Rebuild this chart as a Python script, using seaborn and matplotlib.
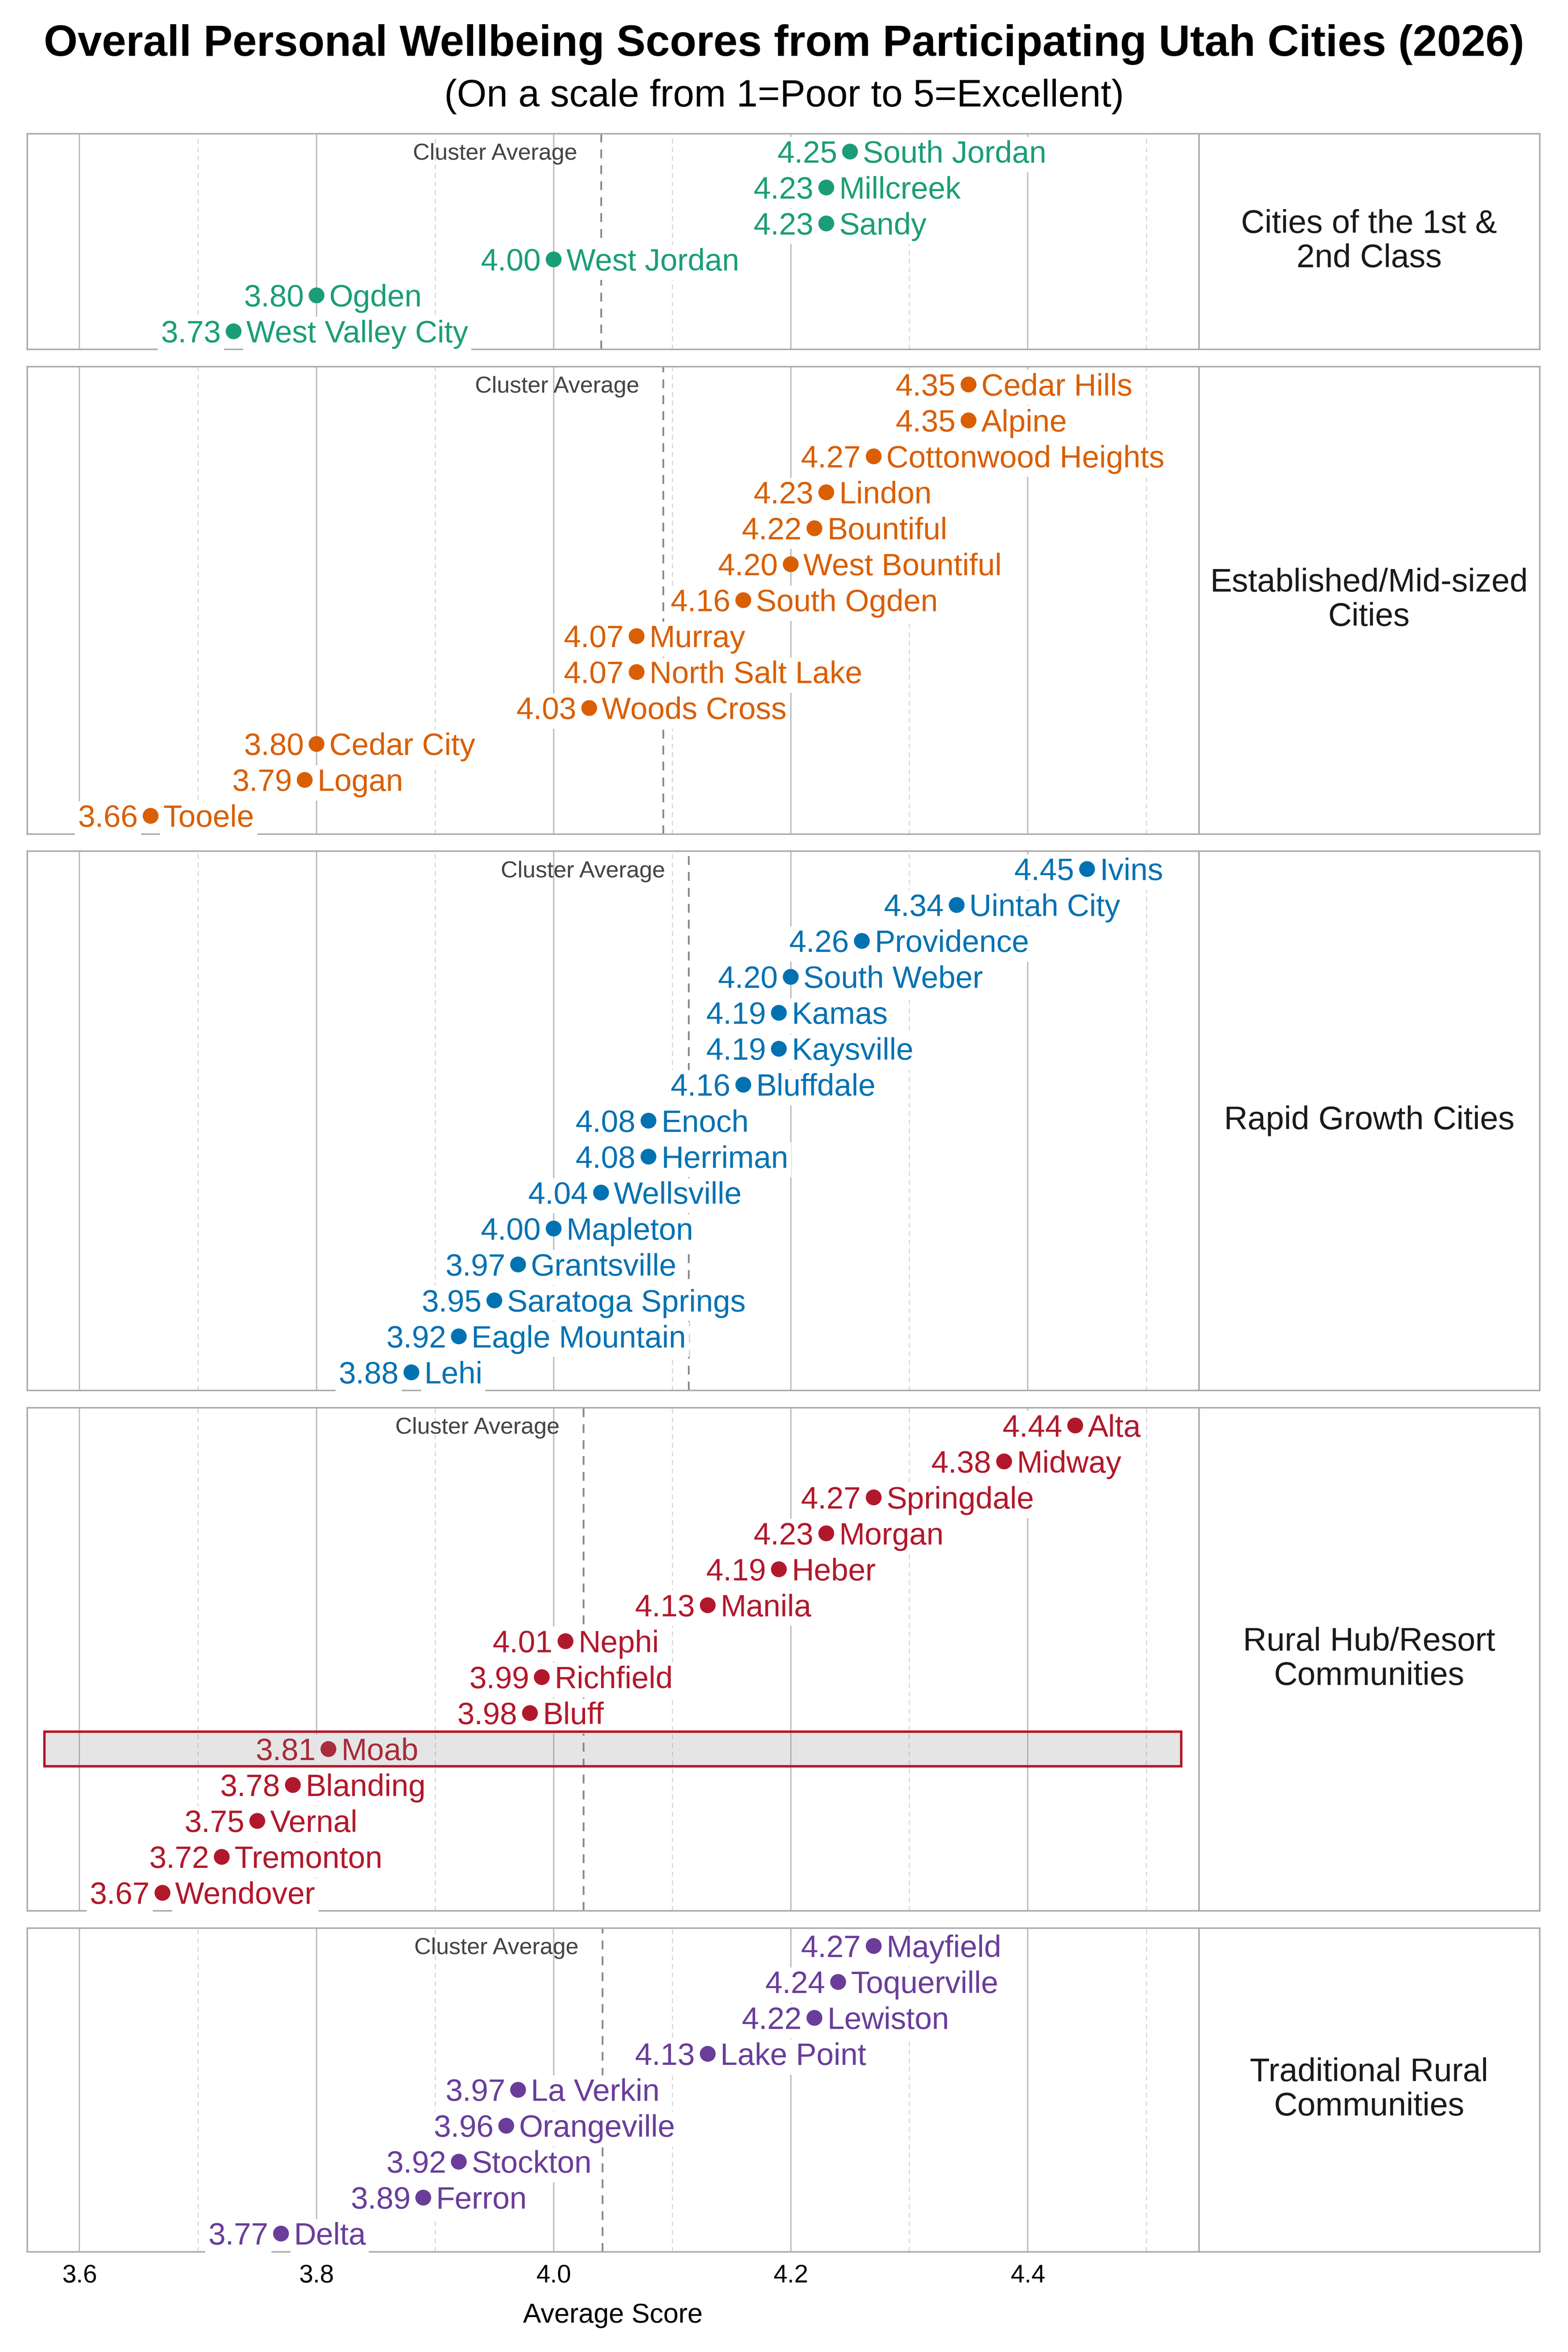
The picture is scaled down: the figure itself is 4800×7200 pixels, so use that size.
import matplotlib
matplotlib.use("Agg")
import matplotlib.pyplot as plt
import matplotlib.patches as mpatches
import matplotlib.transforms as mtransforms
import pandas as pd
import seaborn as sns

# cluster names (as shown in the right-hand strips)
cluster_labels = [
    "Cities of the 1st &\n2nd Class",
    "Established/Mid-sized\nCities",
    "Rapid Growth Cities",
    "Rural Hub/Resort\nCommunities",
    "Traditional Rural\nCommunities",
]
cluster_colors = ["#1b9e77", "#d95f02", "#0072b2", "#b2182b", "#6a3d9a"]

cities_1 = ["South Jordan", "Millcreek", "Sandy", "West Jordan", "Ogden", "West Valley City"]
scores_1 = [4.25, 4.23, 4.23, 4.00, 3.80, 3.73]

cities_2 = ["Cedar Hills", "Alpine", "Cottonwood Heights", "Lindon", "Bountiful", "West Bountiful",
            "South Ogden", "Murray", "North Salt Lake", "Woods Cross", "Cedar City", "Logan", "Tooele"]
scores_2 = [4.35, 4.35, 4.27, 4.23, 4.22, 4.20, 4.16, 4.07, 4.07, 4.03, 3.80, 3.79, 3.66]

cities_3 = ["Ivins", "Uintah City", "Providence", "South Weber", "Kamas", "Kaysville", "Bluffdale",
            "Enoch", "Herriman", "Wellsville", "Mapleton", "Grantsville", "Saratoga Springs",
            "Eagle Mountain", "Lehi"]
scores_3 = [4.45, 4.34, 4.26, 4.20, 4.19, 4.19, 4.16, 4.08, 4.08, 4.04, 4.00, 3.97, 3.95, 3.92, 3.88]

cities_4 = ["Alta", "Midway", "Springdale", "Morgan", "Heber", "Manila", "Nephi", "Richfield", "Bluff",
            "Moab", "Blanding", "Vernal", "Tremonton", "Wendover"]
scores_4 = [4.44, 4.38, 4.27, 4.23, 4.19, 4.13, 4.01, 3.99, 3.98, 3.81, 3.78, 3.75, 3.72, 3.67]

cities_5 = ["Mayfield", "Toquerville", "Lewiston", "Lake Point", "La Verkin", "Orangeville",
            "Stockton", "Ferron", "Delta"]
scores_5 = [4.27, 4.24, 4.22, 4.13, 3.97, 3.96, 3.92, 3.89, 3.77]

highlight_city = "Moab"

x_ticks = [3.6, 3.8, 4.0, 4.2, 4.4]
x_minor = [3.7, 3.9, 4.1, 4.3, 4.5]

all_cities = [cities_1, cities_2, cities_3, cities_4, cities_5]
all_scores = [scores_1, scores_2, scores_3, scores_4, scores_5]

sns.set_theme(style="white")
plt.rcParams["font.family"] = ["Liberation Sans", "DejaVu Sans"]

LABEL_FS = 22.7
AVG_FS = 17
GRID_GREY = "#aaaaaa"

fig = plt.figure(figsize=(16, 24), dpi=300)
gs = fig.add_gridspec(5, 2, height_ratios=[len(c) for c in all_cities], width_ratios=[781, 227],
                      left=0.0172, right=0.9818, top=0.9432, bottom=0.0427, hspace=0.042, wspace=0)

for i, (cities, scores) in enumerate(zip(all_cities, all_scores)):
    ax = fig.add_subplot(gs[i, 0])
    sax = fig.add_subplot(gs[i, 1])
    col = cluster_colors[i]
    n = len(cities)
    df = pd.DataFrame({"city": cities, "score": scores, "pos": range(n)})

    # gridlines
    ax.set_xticks(x_ticks)
    ax.set_xticks(x_minor, minor=True)
    ax.grid(which="major", axis="x", color="#b8b8b8", lw=0.9, zorder=0)
    ax.grid(which="minor", axis="x", color="#d2d2d2", lw=0.7, ls=(0, (5, 4)), zorder=0)
    ax.set_axisbelow(True)

    # cluster average line
    avg = df["score"].mean()
    ax.axvline(avg, color="#888888", lw=1.3, ls=(0, (5, 4)), zorder=1)
    ax.annotate("Cluster Average", xy=(avg - 0.02, 0), xytext=(0, -0.358 * AVG_FS),
                textcoords="offset points", ha="right", va="baseline",
                fontsize=AVG_FS, color="#444444", zorder=2)

    sns.scatterplot(data=df, x="score", y="pos", color=col, s=135, edgecolor="none",
                    ax=ax, zorder=4, legend=False)

    for _, r in df.iterrows():
        box = dict(boxstyle="square,pad=0.1", fc="white", ec="none")
        ax.annotate(f"{r['score']:.2f}", xy=(r["score"], r["pos"]), xytext=(-9.3, -0.358 * LABEL_FS),
                    textcoords="offset points", ha="right", va="baseline",
                    fontsize=LABEL_FS, color=col, bbox=box, zorder=3)
        ax.annotate(r["city"], xy=(r["score"], r["pos"]), xytext=(9.3, -0.358 * LABEL_FS),
                    textcoords="offset points", ha="left", va="baseline",
                    fontsize=LABEL_FS, color=col, bbox=box, zorder=3)
        if r["city"] == highlight_city:
            trans = mtransforms.blended_transform_factory(ax.transAxes, ax.transData)
            ax.add_patch(mpatches.Rectangle((0.015, r["pos"] - 0.48), 0.97, 0.96, transform=trans,
                                            fc=(0.5, 0.5, 0.5, 0.2), ec="#b2182b", lw=1.8,
                                            zorder=5, clip_on=False))

    ax.set_xlim(3.5557, 4.5443)
    ax.set_ylim(n - 0.5, -0.5)
    ax.set_yticks([])
    ax.set_ylabel("")
    ax.tick_params(axis="x", which="both", length=0, labelsize=18.5, pad=9, labelcolor="black")
    if i < 4:
        ax.tick_params(axis="x", labelbottom=False)
        ax.set_xlabel("")
    else:
        ax.set_xlabel("Average Score", fontsize=20, labelpad=11, color="black")

    # strip on the right with the cluster name
    sax.set_xticks([])
    sax.set_yticks([])
    sax.text(0.5, 0.5, cluster_labels[i], ha="center", va="center", fontsize=24,
             color="#1a1a1a", transform=sax.transAxes, linespacing=1.15)

    for a in (ax, sax):
        for sp in a.spines.values():
            sp.set_visible(True)
            sp.set_color(GRID_GREY)
            sp.set_linewidth(1.1)

fig.text(0.5, 0.981, "Overall Personal Wellbeing Scores from Participating Utah Cities (2026)",
         ha="center", va="center", fontsize=32, fontweight="bold", color="black")
fig.text(0.5, 0.959, "(On a scale from 1=Poor to 5=Excellent)",
         ha="center", va="center", fontsize=28, color="black")

fig.savefig("out.png", dpi=300, facecolor="white")
